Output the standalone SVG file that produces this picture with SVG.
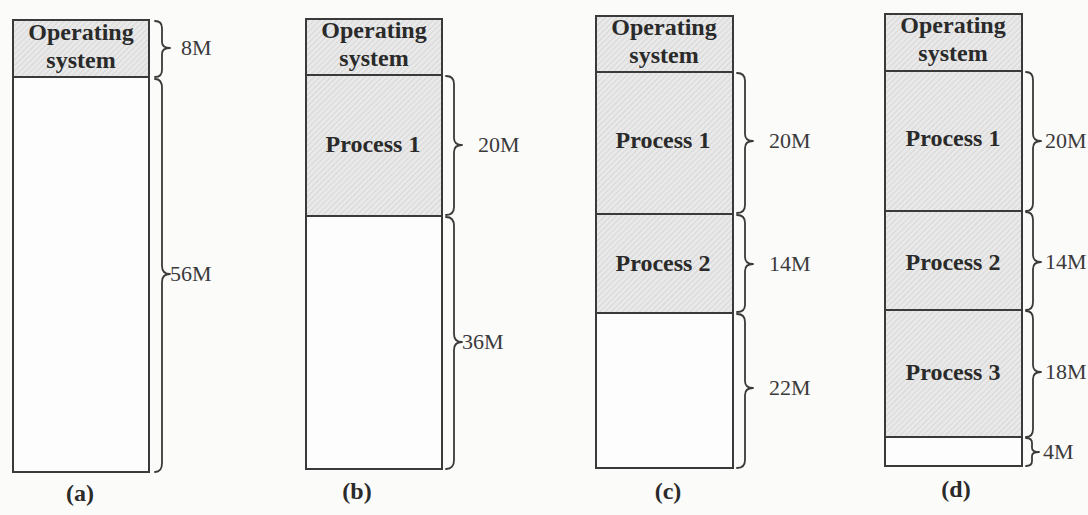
<svg xmlns="http://www.w3.org/2000/svg" width="1088" height="515" viewBox="0 0 1088 515">
  <defs>
    <pattern id="hatch" patternUnits="userSpaceOnUse" width="4" height="4" patternTransform="rotate(45)">
      <rect width="4" height="4" fill="#e9e9e9"/>
      <line x1="0" y1="0" x2="0" y2="4" stroke="#d2d2d2" stroke-width="1.5"/>
    </pattern>
    <style>
      .used { fill: url(#hatch); stroke: #3a3a3a; stroke-width: 2; }
      .free { fill: #fdfdfd; stroke: #3a3a3a; stroke-width: 2; }
      .name { font-family: "Liberation Serif", "Times New Roman", serif; font-weight: bold; font-size: 24px; fill: #2a2a2a; text-anchor: middle; }
      .size { font-family: "Liberation Serif", "Times New Roman", serif; font-size: 22px; fill: #3a3a3a; }
      .cap { font-family: "Liberation Serif", "Times New Roman", serif; font-weight: bold; font-size: 24px; fill: #2a2a2a; text-anchor: middle; }
      .brace { fill: none; stroke: #3a3a3a; stroke-width: 1.8; stroke-linejoin: round; stroke-linecap: round; }
    </style>
  </defs>
  <rect width="1088" height="515" fill="#fbfbfa"/>

  <g id="col-a">
    <rect class="used" x="13" y="20" width="136" height="57"/>
    <rect class="free" x="13" y="77" width="136" height="395"/>
    <text class="name" x="81" y="40">Operating</text>
    <text class="name" x="81" y="68">system</text>
    <text class="cap" x="80" y="501">(a)</text>
  </g>

  <g id="col-b">
    <rect class="used" x="306" y="19" width="136" height="56"/>
    <rect class="used" x="306" y="75" width="136" height="141"/>
    <rect class="free" x="306" y="216" width="136" height="253"/>
    <text class="name" x="374" y="38">Operating</text>
    <text class="name" x="374" y="66">system</text>
    <text class="name" x="373" y="152">Process 1</text>
    <text class="cap" x="357" y="499">(b)</text>
  </g>

  <g id="col-c">
    <rect class="used" x="596" y="16" width="137" height="56"/>
    <rect class="used" x="596" y="72" width="137" height="142"/>
    <rect class="used" x="596" y="214" width="137" height="99"/>
    <rect class="free" x="596" y="313" width="137" height="155"/>
    <text class="name" x="664" y="35">Operating</text>
    <text class="name" x="664" y="63">system</text>
    <text class="name" x="663" y="148">Process 1</text>
    <text class="name" x="663" y="271">Process 2</text>
    <text class="cap" x="668" y="499">(c)</text>
  </g>

  <g id="col-d">
    <rect class="used" x="885" y="14" width="137" height="57"/>
    <rect class="used" x="885" y="71" width="137" height="140"/>
    <rect class="used" x="885" y="211" width="137" height="99"/>
    <rect class="used" x="885" y="310" width="137" height="127"/>
    <rect class="free" x="885" y="437" width="137" height="29"/>
    <text class="name" x="953" y="33">Operating</text>
    <text class="name" x="953" y="61">system</text>
    <text class="name" x="953" y="146">Process 1</text>
    <text class="name" x="953" y="270">Process 2</text>
    <text class="name" x="953" y="380">Process 3</text>
    <text class="cap" x="956" y="497">(d)</text>
  </g>

  <g id="connectors">
    <path class="brace" d="M155 21 Q162 21 162 28 L162 42 Q162 48 170 48 Q162 48 162 54 L162 70 Q162 77 155 77"/>
    <path class="brace" d="M155 79 Q162 79 162 88 L162 266 Q162 274 170 274 Q162 274 162 282 L162 463 Q162 472 155 472"/>
    <path class="brace" d="M446 76 Q454 76 454 84 L454 138 Q454 145 462 145 Q454 145 454 152 L454 207 Q454 215 446 215"/>
    <path class="brace" d="M446 217 Q454 217 454 226 L454 334 Q454 342 462 342 Q454 342 454 350 L454 460 Q454 469 446 469"/>
    <path class="brace" d="M737 73 Q745 73 745 81 L745 134 Q745 141 753 141 Q745 141 745 148 L745 205 Q745 213 737 213"/>
    <path class="brace" d="M737 215 Q745 215 745 223 L745 257 Q745 264 753 264 Q745 264 745 271 L745 305 Q745 312 737 312"/>
    <path class="brace" d="M737 314 Q745 314 745 322 L745 381 Q745 388 753 388 Q745 388 745 395 L745 460 Q745 468 737 468"/>
    <path class="brace" d="M1026 72 Q1033 72 1033 80 L1033 134 Q1033 141 1041 141 Q1033 141 1033 148 L1033 203 Q1033 211 1026 211"/>
    <path class="brace" d="M1026 212 Q1033 212 1033 220 L1033 255 Q1033 262 1041 262 Q1033 262 1033 269 L1033 302 Q1033 310 1026 310"/>
    <path class="brace" d="M1026 311 Q1033 311 1033 319 L1033 365 Q1033 372 1041 372 Q1033 372 1033 379 L1033 429 Q1033 437 1026 437"/>
    <path class="brace" d="M1026 438 Q1032 438 1032 443 L1032 448 Q1032 452 1039 452 Q1032 452 1032 456 L1032 461 Q1032 466 1026 466"/>
  </g>

  <g id="sizes">
    <text class="size" x="181" y="55">8M</text>
    <text class="size" x="170" y="281">56M</text>
    <text class="size" x="478" y="152">20M</text>
    <text class="size" x="462" y="349">36M</text>
    <text class="size" x="769" y="148">20M</text>
    <text class="size" x="769" y="271">14M</text>
    <text class="size" x="769" y="395">22M</text>
    <text class="size" x="1045" y="148" font-size="18">20M</text>
    <text class="size" x="1045" y="269" font-size="18">14M</text>
    <text class="size" x="1045" y="379" font-size="18">18M</text>
    <text class="size" x="1043" y="459" font-size="18">4M</text>
  </g>
</svg>
